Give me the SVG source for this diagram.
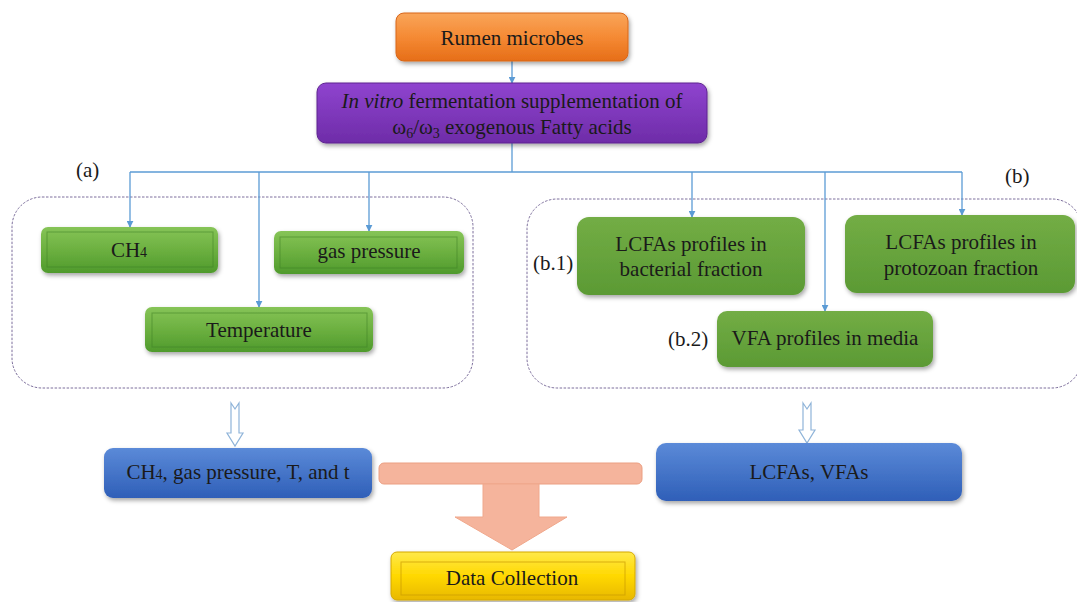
<svg xmlns="http://www.w3.org/2000/svg" width="1077" height="602" viewBox="0 0 1077 602">
<defs>
<linearGradient id="gOrange" x1="0" y1="0" x2="0" y2="1"><stop offset="0" stop-color="#f9a55a"/><stop offset="0.5" stop-color="#f58a34"/><stop offset="1" stop-color="#e66e18"/></linearGradient>
<linearGradient id="gPurple" x1="0" y1="0" x2="0" y2="1"><stop offset="0" stop-color="#8f44cf"/><stop offset="1" stop-color="#6e2ca8"/></linearGradient>
<linearGradient id="gGreen" x1="0" y1="0" x2="0" y2="1"><stop offset="0" stop-color="#86c457"/><stop offset="0.5" stop-color="#6cb040"/><stop offset="1" stop-color="#4f9a2c"/></linearGradient>
<linearGradient id="gGreen2" x1="0" y1="0" x2="0" y2="1"><stop offset="0" stop-color="#73ad45"/><stop offset="1" stop-color="#5b9a34"/></linearGradient>
<linearGradient id="gBlue" x1="0" y1="0" x2="0" y2="1"><stop offset="0" stop-color="#5b8ad8"/><stop offset="1" stop-color="#2f5fb8"/></linearGradient>
<linearGradient id="gYellow" x1="0" y1="0" x2="0" y2="1"><stop offset="0" stop-color="#ffe94a"/><stop offset="0.5" stop-color="#ffd800"/><stop offset="1" stop-color="#e8b800"/></linearGradient>
<filter id="sh" x="-10%" y="-20%" width="130%" height="150%"><feDropShadow dx="1.5" dy="2.5" stdDeviation="2" flood-color="#000" flood-opacity="0.35"/></filter>
<marker id="ah" viewBox="0 0 10 10" refX="9" refY="5" markerWidth="7" markerHeight="7" orient="auto" markerUnits="userSpaceOnUse"><path d="M0,0 L10,5 L0,10 z" fill="#5b9bd5"/></marker>
<style>
text{font-family:'Liberation Serif',serif;fill:#1a1a1a;font-size:21px}
.c{text-anchor:middle}
.conn{stroke:#5b9bd5;stroke-width:1.3;fill:none}
.dash{fill:none;stroke:#7d6f9c;stroke-width:1;stroke-dasharray:2.5 1.5}
.inner{fill:none;stroke:#3f7f24;stroke-opacity:0.55;stroke-width:1}
.hollow{fill:#fff;stroke:#8fb4d9;stroke-width:1.2}
</style>
</defs>

<g id="labels" font-family="Liberation Serif, serif">
<text x="76" y="177">(a)</text>
<text x="1005" y="183">(b)</text>
</g>

<g id="groupA"><rect class="dash" x="12" y="197" width="461" height="191" rx="30"/></g>
<g id="groupB"><rect class="dash" x="527" y="199" width="555" height="189" rx="30"/></g>

<g id="connectors">
<line class="conn" x1="512" y1="61" x2="512" y2="83" marker-end="url(#ah)"/>
<polyline class="conn" points="512,143 512,172"/>
<polyline class="conn" points="130,172 962,172"/>
<line class="conn" x1="130" y1="172" x2="130" y2="227" marker-end="url(#ah)"/>
<line class="conn" x1="259" y1="172" x2="259" y2="307" marker-end="url(#ah)"/>
<line class="conn" x1="369" y1="172" x2="369" y2="231" marker-end="url(#ah)"/>
<line class="conn" x1="692" y1="172" x2="692" y2="217" marker-end="url(#ah)"/>
<line class="conn" x1="825" y1="172" x2="825" y2="311" marker-end="url(#ah)"/>
<line class="conn" x1="962" y1="172" x2="962" y2="215" marker-end="url(#ah)"/>
<path class="hollow" d="M231,403 L235,409 L239,403 L239,433 L243,433 L235,446 L227,433 L231,433 Z"/>
<path class="hollow" d="M803,403 L807,409 L811,403 L811,430 L815,430 L807,443 L799,430 L803,430 Z"/>
</g>

<g id="rumen">
<rect x="396" y="13" width="232" height="48" rx="8" fill="url(#gOrange)" stroke="#d8661a" stroke-width="1" filter="url(#sh)"/>
<text class="c" x="512" y="45">Rumen microbes</text>
</g>

<g id="invitro">
<rect x="317" y="83" width="390" height="60" rx="9" fill="url(#gPurple)" stroke="#5e2490" stroke-width="1" filter="url(#sh)"/>
<text class="c" x="512" y="108"><tspan font-style="italic">In vitro</tspan> fermentation supplementation of</text>
<text class="c" x="512" y="134">ω<tspan font-size="14" dy="4">6</tspan><tspan dy="-4">/ω</tspan><tspan font-size="14" dy="4">3</tspan><tspan dy="-4"> exogenous Fatty acids</tspan></text>
</g>

<g id="ch4">
<rect x="41" y="227" width="177" height="46" rx="7" fill="url(#gGreen)" filter="url(#sh)"/>
<rect class="inner" x="47" y="232" width="166" height="35"/>
<text class="c" x="129" y="257">CH<tspan font-size="14">4</tspan></text>
</g>

<g id="gaspressure">
<rect x="274" y="231" width="190" height="43" rx="7" fill="url(#gGreen)" filter="url(#sh)"/>
<rect class="inner" x="280" y="237" width="177" height="31"/>
<text class="c" x="369" y="258">gas pressure</text>
</g>

<g id="temperature">
<rect x="145" y="307" width="228" height="45" rx="7" fill="url(#gGreen)" filter="url(#sh)"/>
<rect class="inner" x="152" y="313" width="215" height="34"/>
<text class="c" x="259" y="337">Temperature</text>
</g>

<g id="bacterial">
<text x="533" y="270">(b.1)</text>
<rect x="577" y="217" width="228" height="78" rx="12" fill="url(#gGreen2)" filter="url(#sh)"/>
<text class="c" x="691" y="251">LCFAs profiles in</text>
<text class="c" x="691" y="276">bacterial fraction</text>
</g>

<g id="protozoan">
<rect x="845" y="215" width="230" height="78" rx="12" fill="url(#gGreen2)" filter="url(#sh)"/>
<text class="c" x="961" y="249">LCFAs profiles in</text>
<text class="c" x="961" y="275">protozoan fraction</text>
</g>

<g id="vfa">
<text x="668" y="346">(b.2)</text>
<rect x="717" y="311" width="216" height="56" rx="10" fill="url(#gGreen2)" filter="url(#sh)"/>
<text class="c" x="825" y="345">VFA profiles in media</text>
</g>

<g id="summaryA">
<rect x="104" y="448" width="268" height="50" rx="9" fill="url(#gBlue)" filter="url(#sh)"/>
<text class="c" x="238" y="479">CH<tspan font-size="14">4</tspan>, gas pressure, T, and t</text>
</g>

<g id="summaryB">
<rect x="656" y="443" width="306" height="58" rx="10" fill="url(#gBlue)" filter="url(#sh)"/>
<text class="c" x="809" y="479">LCFAs, VFAs</text>
</g>

<g id="merge">
<rect x="379" y="463" width="263" height="21" rx="5" fill="#f5b49c" stroke="#eb9f82" stroke-width="1"/>
<path d="M483,484 L539,484 L539,517 L567,517 L512,550 L455,517 L483,517 Z" fill="#f5b49c" stroke="#f0a88c" stroke-width="1"/>
</g>

<g id="datacollection">
<rect x="391" y="552" width="244" height="48" rx="6" fill="url(#gYellow)" stroke="#d4a800" stroke-width="1" filter="url(#sh)"/>
<rect x="401" y="562" width="224" height="33" fill="none" stroke="#c99a00" stroke-opacity="0.7" stroke-width="1"/>
<text class="c" x="512" y="585">Data Collection</text>
</g>
</svg>
